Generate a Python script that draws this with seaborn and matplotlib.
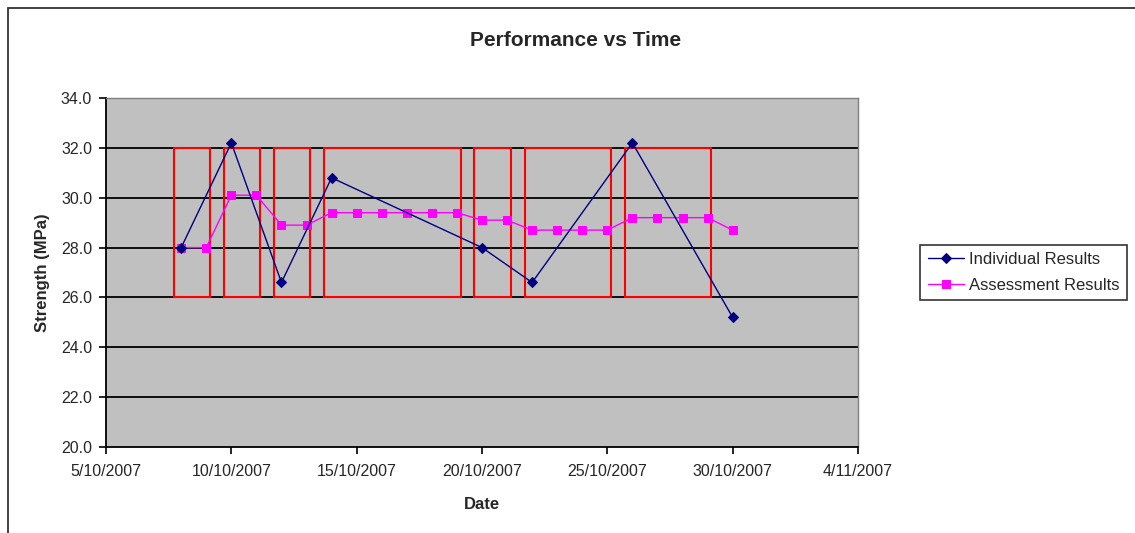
import matplotlib
matplotlib.use("Agg")
import matplotlib.pyplot as plt
import matplotlib.dates as mdates
from matplotlib.patches import Rectangle
import pandas as pd
import seaborn as sns

# Individual test results
ind_dates = ["2007-10-08", "2007-10-10", "2007-10-12", "2007-10-14",
             "2007-10-20", "2007-10-22", "2007-10-26", "2007-10-30"]
ind_values = [28.0, 32.2, 26.6, 30.8, 28.0, 26.6, 32.2, 25.2]

# Rolling assessment results
asm_dates = ["2007-10-08", "2007-10-09", "2007-10-10", "2007-10-11",
             "2007-10-12", "2007-10-13", "2007-10-14", "2007-10-15",
             "2007-10-16", "2007-10-17", "2007-10-18", "2007-10-19",
             "2007-10-20", "2007-10-21", "2007-10-22", "2007-10-23",
             "2007-10-24", "2007-10-25", "2007-10-26", "2007-10-27",
             "2007-10-28", "2007-10-29", "2007-10-30"]
asm_values = [28.0, 28.0, 30.1, 30.1, 28.9, 28.9, 29.4, 29.4, 29.4, 29.4,
              29.4, 29.4, 29.1, 29.1, 28.7, 28.7, 28.7, 28.7, 29.2, 29.2,
              29.2, 29.2, 28.7]

# Assessment windows (first and last day of each group) and band limits
win_start = ["2007-10-08", "2007-10-10", "2007-10-12", "2007-10-14",
             "2007-10-20", "2007-10-22", "2007-10-26"]
win_end = ["2007-10-09", "2007-10-11", "2007-10-13", "2007-10-19",
           "2007-10-21", "2007-10-25", "2007-10-29"]
band_low, band_high = 26.0, 32.0

x_ticks = ["2007-10-05", "2007-10-10", "2007-10-15", "2007-10-20",
           "2007-10-25", "2007-10-30", "2007-11-04"]
y_ticks = [20, 22, 24, 26, 28, 30, 32, 34]

sns.set_style("white")
plt.rcParams["font.family"] = ["Liberation Sans", "DejaVu Sans"]

fig = plt.figure(figsize=(11.35, 5.33), dpi=100)
ax = fig.add_axes([106 / 1135, 86 / 533, 752 / 1135, 349 / 533])

# Outer chart frame
fig.patches.append(Rectangle((8 / 1135, -0.05), 1.1, (533 - 8) / 533 + 0.05,
                             transform=fig.transFigure, fill=False,
                             edgecolor="#333333", linewidth=1.3, zorder=0))

ind_df = pd.DataFrame({"Date": pd.to_datetime(ind_dates), "Strength": ind_values})
asm_df = pd.DataFrame({"Date": pd.to_datetime(asm_dates), "Strength": asm_values})

ax.set_facecolor("#C0C0C0")
for y in y_ticks[1:-1]:
    ax.axhline(y, color="black", linewidth=1.3, zorder=1)

# Red windows spanning the band limits
for s, e in zip(win_start, win_end):
    x0 = mdates.date2num(pd.Timestamp(s)) - 0.3
    x1 = mdates.date2num(pd.Timestamp(e)) + 0.15
    ax.add_patch(Rectangle((x0, band_low), x1 - x0, band_high - band_low,
                           fill=False, edgecolor="#FF0000", linewidth=1.5, zorder=2))

sns.lineplot(data=ind_df, x="Date", y="Strength", ax=ax, color="#000080",
             marker="D", markersize=5, markeredgecolor="#000080", linewidth=1,
             label="Individual Results", zorder=4)
sns.lineplot(data=asm_df, x="Date", y="Strength", ax=ax, color="#FF00FF",
             marker="s", markersize=6, markeredgecolor="#FF00FF", linewidth=1,
             label="Assessment Results", zorder=3)

ax.set_xlim(pd.Timestamp(x_ticks[0]), pd.Timestamp(x_ticks[-1]))
ax.set_ylim(y_ticks[0], y_ticks[-1])
ax.set_xticks(pd.to_datetime(x_ticks))
ax.set_xticklabels([f"{d.day}/{d.month}/{d.year}" for d in pd.to_datetime(x_ticks)])
ax.set_yticks(y_ticks)
ax.set_yticklabels([f"{v:.1f}" for v in y_ticks])
ax.tick_params(axis="both", direction="out", length=5, width=1.2, color="black",
               labelsize=11.5, bottom=True, left=True)
ax.tick_params(axis="y", pad=5)
ax.tick_params(axis="x", pad=7)

for side in ("left", "bottom"):
    ax.spines[side].set_color("black")
    ax.spines[side].set_linewidth(1.3)
for side in ("top", "right"):
    ax.spines[side].set_visible(True)
    ax.spines[side].set_color("#808080")
    ax.spines[side].set_linewidth(1)

ax.set_xlabel("Date", fontsize=12, fontweight="bold", labelpad=13)
ax.set_ylabel("Strength (MPa)", fontsize=12, fontweight="bold", labelpad=8)
fig.text(576 / 1135, 1 - 41 / 533, "Performance vs Time", fontsize=15,
         fontweight="bold", ha="center", va="center")

leg = ax.legend(loc="center left", bbox_to_anchor=(814 / 752, 0.5), frameon=True,
                fancybox=False, edgecolor="black", fontsize=12, handlelength=2.2,
                handletextpad=0.3, borderpad=0.45, borderaxespad=0,
                labelspacing=0.65)
leg.get_frame().set_linewidth(1.2)

fig.savefig("out.png", dpi=100)
